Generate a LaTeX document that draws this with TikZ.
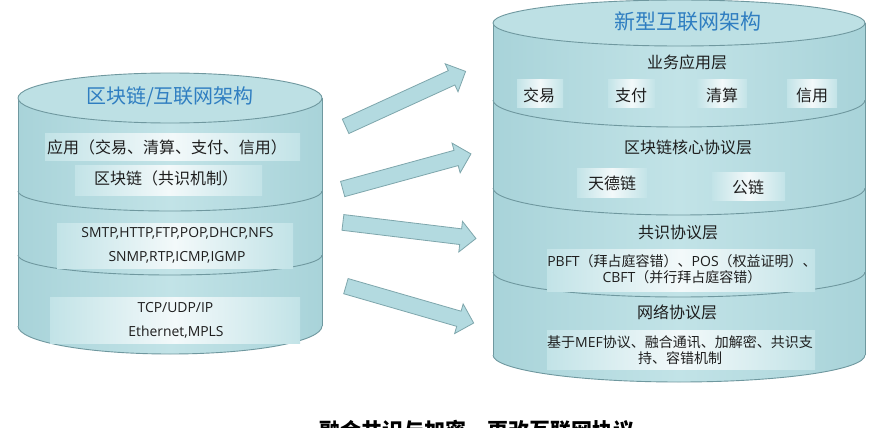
\documentclass[tikz,border=0pt]{standalone}
\usepackage{fontspec}
\setmainfont{Noto Sans CJK SC}
\newfontfamily\lt{Open Sans}
\usetikzlibrary{shapes.arrows}
\definecolor{cylA}{HTML}{A8D3D9}
\definecolor{cylB}{HTML}{C2E3E7}
\definecolor{cyltop}{HTML}{BDE0E4}
\definecolor{edgec}{HTML}{6F989F}
\definecolor{bandE}{HTML}{C2E3E7}
\definecolor{bandM}{HTML}{F3F9FA}
\definecolor{ttl}{HTML}{2F7EC1}
\definecolor{arrF}{HTML}{B3DAE0}
\definecolor{arrD}{HTML}{7EA6AC}
\definecolor{txt}{HTML}{1E1E1E}
\tikzset{
  body/.style={left color=cylA, right color=cylA, middle color=cylB, draw=none},
  rim/.style={draw=edgec, line width=0.9pt},
  topface/.style={fill=cyltop, draw=edgec, line width=0.9pt},
  band/.style={left color=bandE, right color=bandE, middle color=bandM, draw=none},
  lbl/.style={text=txt, inner sep=0pt, align=center, font=\fontsize{16}{18}\selectfont},
  small/.style={text=txt, inner sep=0pt, align=center, font=\fontsize{14}{16}\selectfont},
  latin/.style={text=txt, inner sep=0pt, align=center, font=\lt\fontsize{13.9}{16}\selectfont},
  ttlstyle/.style={text=ttl, inner sep=0pt, font=\fontsize{20}{22}\selectfont},
  bigarrow/.style={shape=single arrow, single arrow head extend=7.5pt,
    inner sep=0pt, fill=arrF, draw=arrD, line width=0.8pt},
}
\begin{document}
\begin{tikzpicture}[x=1pt,y=-1pt]
\useasboundingbox (0,0) rectangle (881,428);
\clip (0,0) rectangle (881,428);
\fill[white] (0,0) rectangle (881,428);

% ---------- left cylinder ----------
\shade[body] (18,98) rectangle (322,326);
\shade[body] (170,326) ellipse[x radius=152, y radius=28];
\begin{scope}\clip (10,326) rectangle (330,360);
  \draw[rim] (170,326) ellipse[x radius=152, y radius=28];\end{scope}
\begin{scope}\clip (10,191) rectangle (330,215);
  \draw[rim] (170,191) ellipse[x radius=152, y radius=20];\end{scope}
\begin{scope}\clip (10,255) rectangle (330,280);
  \draw[rim] (170,255) ellipse[x radius=152, y radius=20];\end{scope}
\draw[rim] (18,98) -- (18,326) (322,98) -- (322,326);
\draw[topface] (170,98) ellipse[x radius=152, y radius=25];

\shade[band] (45,133) rectangle (300,160);
\shade[band] (75,165) rectangle (262,195);
\shade[band] (57,223) rectangle (293,245);
\shade[band] (57,246) rectangle (293,268);
\shade[band] (50,297) rectangle (300,320);
\shade[band] (50,321) rectangle (300,343);

\node[ttlstyle] (lt) at (170,97) {区块链/互联网架构};
\node[lbl, font=\fontsize{16}{18}\selectfont] (l1) at (167,147) {应用（交易、清算、支付、信用）};
\node[lbl, font=\fontsize{16}{18}\selectfont] (l2) at (166,178) {区块链（共识机制）};
\node[latin] (l3) at (177.5,233) {SMTP,HTTP,FTP,POP,DHCP,NFS};
\node[latin] (l4) at (177,257) {SNMP,RTP,ICMP,IGMP};
\node[latin] (l5) at (175.5,308) {TCP/UDP/IP};
\node[latin] (l6) at (176,332) {Ethernet,MPLS};

% ---------- right cylinder ----------
\shade[body] (493,23) rectangle (865,355);
\shade[body] (679,355) ellipse[x radius=186, y radius=27];
\begin{scope}\clip (485,355) rectangle (875,390);
  \draw[rim] (679,355) ellipse[x radius=186, y radius=27];\end{scope}
\begin{scope}\clip (485,100) rectangle (875,130);
  \draw[rim] (679,100) ellipse[x radius=186, y radius=27];\end{scope}
\begin{scope}\clip (485,188) rectangle (875,218);
  \draw[rim] (679,188) ellipse[x radius=186, y radius=27];\end{scope}
\begin{scope}\clip (485,272) rectangle (875,300);
  \draw[rim] (679,272) ellipse[x radius=186, y radius=25];\end{scope}
\draw[rim] (493,23) -- (493,355) (865,23) -- (865,355);
\draw[topface] (679,23) ellipse[x radius=186, y radius=23];

\shade[band] (517,80) rectangle (563,107);
\shade[band] (608,80) rectangle (655,107);
\shade[band] (697,80) rectangle (747,107);
\shade[band] (787,80) rectangle (837,107);
\shade[band] (577,168) rectangle (647,197);
\shade[band] (712,172) rectangle (785,200);
\shade[band] (547,249) rectangle (815,291);
\shade[band] (547,330) rectangle (815,369);

\node[ttlstyle, font=\fontsize{21}{23}\selectfont] (rt) at (688,22) {新型互联网架构};
\node[lbl] (r1) at (687,62) {业务应用层};
\node[lbl] (b1) at (539,95) {交易};
\node[lbl] (b2) at (631,95) {支付};
\node[lbl] (b3) at (722,95) {清算};
\node[lbl] (b4) at (812,95) {信用};
\node[lbl] (r2) at (688,147) {区块链核心协议层};
\node[lbl] (c1) at (612,183) {天德链};
\node[lbl] (c2) at (748,187) {公链};
\node[lbl] (r3) at (678,232) {共识协议层};
\node[small] (p1) at (682,269) {{\lt PBFT}（拜占庭容错）、{\lt POS}（权益证明）、\\{\lt CBFT}（并行拜占庭容错）};
\node[lbl] (r4) at (677,312) {网络协议层};
\node[small] (p2) at (680,350.5) {基于{\lt MEF}协议、融合通讯、加解密、共识支\\持、容错机制};

% ---------- arrows ----------
\node[bigarrow, minimum height=132pt, rotate=24.6] (a1) at (402,100.5) {\rule{0pt}{15pt}};
\node[bigarrow, minimum height=133pt, rotate=15.3] (a2) at (403,172.5) {\rule{0pt}{15pt}};
\node[bigarrow, minimum height=134pt, rotate=-6.9] (a3) at (405.5,230) {\rule{0pt}{15pt}};
\node[bigarrow, minimum height=133pt, rotate=-16.1] (a4) at (406,303.5) {\rule{0pt}{15pt}};

% ---------- caption ----------
\node[text=black, inner sep=0pt, font=\bfseries\fontsize{21}{23}\selectfont] (cap) at (477,431) {融合共识与加密，更改互联网协议};
\end{tikzpicture}
\end{document}
